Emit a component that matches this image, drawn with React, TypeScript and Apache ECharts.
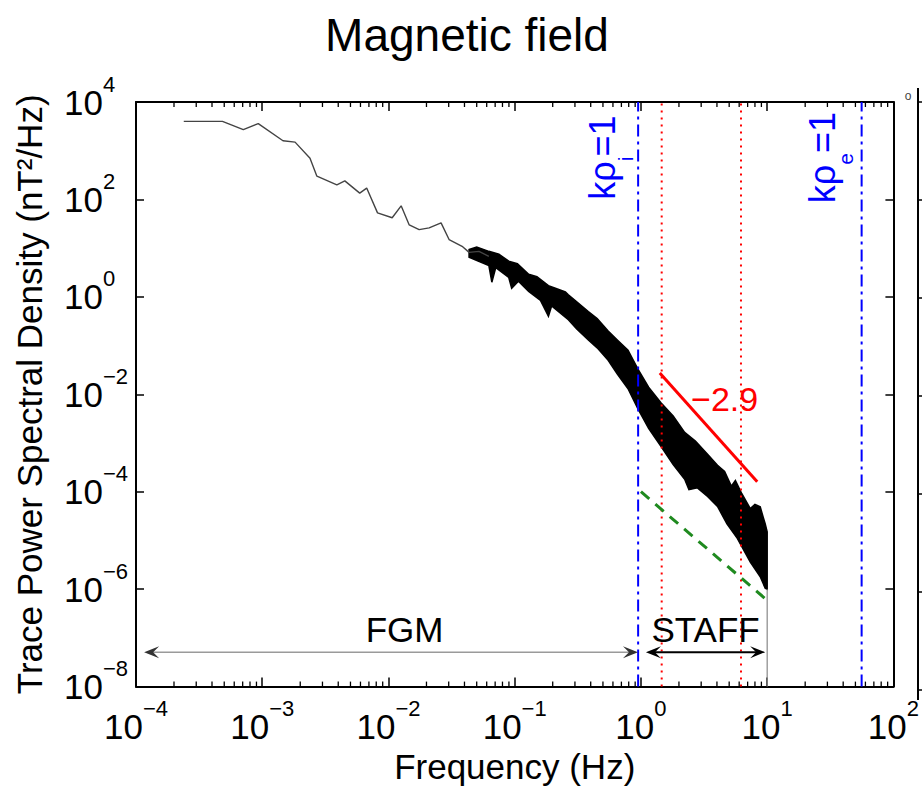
import React, { useEffect, useRef } from 'react';
import * as echarts from 'echarts';

const FONT = '"Liberation Sans", Arial, Helvetica, sans-serif';

// Axis ranges
const xRange = [1e-4, 1e2];
const yRange = [1e-8, 1e4];
const xTickExps = ['−4', '−3', '−2', '−1', '0', '1', '2'];
const yTickExps = ['−8', '−6', '−4', '−2', '0', '2', '4'];
const minorDecades = [1e-4, 1e-3, 1e-2, 1e-1, 1, 10];
const minorMultipliers = [2, 3, 4, 5, 6, 7, 8, 9];

// Low-frequency (thin) part of the trace spectrum
const lowFreqF = [2.39e-4, 4.84e-4, 7.08e-4, 9.3e-4, 1.46e-3, 1.82e-3, 2.39e-3, 2.71e-3, 3.9e-3, 4.51e-3, 5.92e-3, 6.72e-3, 8.19e-3, 1.07e-2, 1.26e-2, 1.46e-2, 1.75e-2, 2.1e-2, 2.61e-2, 3.02e-2, 3.83e-2, 4.35e-2, 5.21e-2, 6.24e-2];
const lowFreqP = [4.0e3, 4.0e3, 2.7e3, 3.6e3, 1.6e3, 1.5e3, 700, 300, 200, 240, 135, 171, 53, 42, 74, 30, 24, 26, 33, 15, 10.9, 8.2, 8.6, 6.8];

// Noisy high-frequency band: upper and lower envelopes
const upperF = [0.0435, 0.05, 0.0624, 0.075, 0.0897, 0.105, 0.129, 0.15, 0.185, 0.21, 0.252, 0.266, 0.3, 0.383, 0.45, 0.55, 0.65, 0.79, 0.947, 1.15, 1.44, 1.8, 2.22, 2.7, 3.37, 4.04, 4.6, 5.2, 5.6, 6.3, 7.35, 8.0, 8.81, 9.3, 9.64, 10.0];
const upperP = [9.4, 10.5, 8.6, 7.5, 5.4, 4.8, 2.9, 2.6, 1.7, 1.5, 1.26, 1.1, 0.85, 0.5, 0.36, 0.2, 0.13, 0.08, 0.033, 0.014, 6.7e-3, 3.6e-3, 1.65e-3, 1.1e-3, 5.9e-4, 3.5e-4, 2.6e-4, 1.3e-4, 1.7e-4, 9.1e-5, 4.5e-5, 5.5e-5, 4.9e-5, 3.0e-5, 2.2e-5, 1.5e-5];
const lowerF = [0.0435, 0.0624, 0.0659, 0.0708, 0.0897, 0.0946, 0.107, 0.129, 0.16, 0.185, 0.196, 0.266, 0.31, 0.383, 0.45, 0.55, 0.65, 0.79, 0.947, 1.15, 1.44, 1.8, 2.22, 2.4, 2.8, 3.37, 4.04, 4.8, 5.8, 7.35, 8.81, 9.64, 10.0];
const lowerP = [6.5, 4.4, 2.0, 4.0, 2.5, 1.5, 2.1, 1.3, 0.85, 0.4, 0.65, 0.34, 0.22, 0.13, 0.09, 0.05, 0.026, 0.013, 5.0e-3, 2.0e-3, 8.5e-4, 3.6e-4, 1.8e-4, 1.1e-4, 1.2e-4, 8.0e-5, 5.0e-5, 2.2e-5, 1.1e-5, 3.6e-6, 1.8e-6, 1.05e-6, 1.0e-6];

// Reference lines
const kRhoIF = 0.95;
const kRhoEF = 56;
const redDottedF = [1.46, 6.2];
const fitF = [1.41, 8.34];
const fitP = [0.0274, 1.6e-4];
const noiseF = [1.0, 10];
const noiseP = [1.0e-4, 5.9e-7];
const cutoffF = [10, 10];
const cutoffP = [1.0e-6, 1e-8];

// Instrument ranges (arrows)
const arrowNames = ['FGM', 'STAFF'];
const arrowFrom = [1.16e-4, 1.095];
const arrowTo = [0.947, 9.64];
const arrowP = 5.1e-8;
const arrowLineColors = ['#9a9a9a', '#000000'];
const arrowHeadColors = ['#333333', '#000000'];
const arrowLabelF = [0.0134, 3.25];
const arrowLabelP = 1.5e-7;

// Annotations
const slopeLabel = '−2.9';
const slopeLabelPos = [4.6, 7.9e-3];
const kRhoLabels = [
  { f: 0.492, p: 720, sub: 'i' },
  { f: 27.2, p: 720, sub: 'e' },
];

const richTick = {
  b: { fontSize: 35, fontFamily: FONT, color: '#000', lineHeight: 58, verticalAlign: 'middle' },
  s: { fontSize: 22, fontFamily: FONT, color: '#000', lineHeight: 22, verticalAlign: 'top' },
};

export default function App() {
  const ref = useRef<HTMLDivElement>(null);
  useEffect(() => {
    if (!ref.current) return;
    const chart = echarts.init(ref.current, null, { renderer: 'svg' });

    const minorTicks: number[][] = [];
    minorDecades.forEach((d) => minorMultipliers.forEach((m) => minorTicks.push([d * m, 1])));

    const vline = (f: number, color: string, type: any, width: number, name: string) => ({
      type: 'line',
      name,
      data: [[f, yRange[0]], [f, yRange[1]]],
      symbol: 'none',
      silent: true,
      z: 4,
      lineStyle: { color, type, width },
    });

    const textPoint = (f: number, p: number, label: any, name: string) => ({
      type: 'scatter',
      name,
      data: [[f, p]],
      symbolSize: 1,
      itemStyle: { color: 'rgba(0,0,0,0)' },
      silent: true,
      z: 6,
      label: { show: true, position: 'inside', textBorderWidth: 0, opacity: 1, ...label },
    });

    const yAxisBase = {
      type: 'log',
      logBase: 10,
      min: yRange[0],
      max: yRange[1],
      interval: 2,
      splitLine: { show: false },
    };

    const option: any = {
      animation: false,
      backgroundColor: '#fff',
      grid: { left: 136, right: 25, top: 102, bottom: 99, show: false },
      xAxis: [
        {
          type: 'log',
          logBase: 10,
          min: xRange[0],
          max: xRange[1],
          interval: 1,
          position: 'bottom',
          name: 'Frequency (Hz)',
          nameLocation: 'middle',
          nameGap: 46,
          nameTextStyle: { fontSize: 35, fontFamily: FONT, color: '#000' },
          axisLine: { show: true, onZero: false, lineStyle: { color: '#000', width: 2 } },
          axisTick: { show: true, inside: true, length: 9, lineStyle: { color: '#000', width: 1.5 } },
          axisLabel: {
            show: true,
            margin: 11,
            formatter: (v: number, idx: number) => `{b|10}{s|${xTickExps[idx] ?? ''}}`,
            rich: richTick,
          },
          splitLine: { show: false },
        },
        {
          type: 'log',
          logBase: 10,
          min: xRange[0],
          max: xRange[1],
          interval: 1,
          position: 'top',
          axisLine: { show: true, onZero: false, lineStyle: { color: '#000', width: 2 } },
          axisTick: { show: true, inside: true, length: 9, lineStyle: { color: '#000', width: 1.5 } },
          axisLabel: { show: false },
          splitLine: { show: false },
        },
      ],
      yAxis: [
        {
          ...yAxisBase,
          position: 'left',
          name: 'Trace Power Spectral Density (nT²/Hz)',
          nameLocation: 'middle',
          nameGap: 89,
          nameMoveOverlap: false,
          nameRotate: 90,
          nameTextStyle: { fontSize: 35, fontFamily: FONT, color: '#000' },
          axisLine: { show: true, onZero: false, lineStyle: { color: '#000', width: 2 } },
          axisTick: { show: true, inside: true, length: 8, lineStyle: { color: '#000', width: 1.5 } },
          axisLabel: {
            show: true,
            margin: 72,
            align: 'left',
            formatter: (v: number, idx: number) => `{b|10}{s|${yTickExps[idx] ?? ''}}`,
            rich: richTick,
          },
        },
        {
          ...yAxisBase,
          position: 'right',
          axisLine: { show: true, onZero: false, lineStyle: { color: '#000', width: 2 } },
          axisTick: { show: true, inside: true, length: 8, lineStyle: { color: '#000', width: 1.5 } },
          axisLabel: { show: false },
        },
      ],
      graphic: [
        {
          type: 'text',
          x: 467,
          y: 35,
          style: {
            text: 'Magnetic field',
            fontSize: 46,
            fontFamily: FONT,
            fill: '#000',
            align: 'center',
            verticalAlign: 'middle',
          },
        },
        {
          type: 'line',
          shape: { x1: 918, y1: 88, x2: 918, y2: 700 },
          style: { stroke: '#000', lineWidth: 2 },
        },
        ...[102, 200, 298, 396, 494, 592, 690].map((y) => ({
          type: 'line',
          shape: { x1: 918, y1: y, x2: 924, y2: y },
          style: { stroke: '#000', lineWidth: 1.5 },
        })),
        {
          type: 'text',
          x: 908,
          y: 96,
          style: { text: 'o', fontSize: 12, fontFamily: FONT, fill: '#444', align: 'center', verticalAlign: 'middle' },
        },
      ],
      series: [
        {
          type: 'custom',
          name: 'minorTicks',
          data: minorTicks,
          silent: true,
          z: 5,
          renderItem: (params: any, api: any) => {
            const x = api.coord([api.value(0), 1])[0];
            const cs = params.coordSys;
            return {
              type: 'group',
              children: [
                { type: 'line', shape: { x1: x, y1: cs.y + cs.height, x2: x, y2: cs.y + cs.height - 5 }, style: { stroke: '#000', lineWidth: 1.3 } },
                { type: 'line', shape: { x1: x, y1: cs.y, x2: x, y2: cs.y + 5 }, style: { stroke: '#000', lineWidth: 1.3 } },
              ],
            };
          },
        },
        {
          type: 'line',
          name: 'spectrumLow',
          data: lowFreqF.map((f, i) => [f, lowFreqP[i]]),
          symbol: 'none',
          silent: true,
          z: 2,
          lineStyle: { color: '#444', width: 1.4 },
        },
        {
          type: 'custom',
          name: 'spectrumBand',
          data: [[1, 1]],
          silent: true,
          z: 2,
          renderItem: (params: any, api: any) => {
            const pts: number[][] = [];
            upperF.forEach((f, i) => pts.push(api.coord([f, upperP[i]])));
            for (let i = lowerF.length - 1; i >= 0; i--) pts.push(api.coord([lowerF[i], lowerP[i]]));
            return {
              type: 'polygon',
              shape: { points: pts },
              style: { fill: '#000', stroke: '#000', lineWidth: 1.5, lineJoin: 'miter' },
            };
          },
        },
        {
          type: 'line',
          name: 'cutoff',
          data: cutoffF.map((f, i) => [f, cutoffP[i]]),
          symbol: 'none',
          silent: true,
          z: 2,
          lineStyle: { color: '#888', width: 1.2 },
        },
        vline(kRhoIF, '#0000ff', [12, 5, 3, 5], 2, 'kRhoI'),
        vline(kRhoEF, '#0000ff', [12, 5, 3, 5], 2, 'kRhoE'),
        vline(redDottedF[0], '#ff0000', [2, 5], 2, 'red1'),
        vline(redDottedF[1], '#ff0000', [2, 5], 2, 'red2'),
        {
          type: 'line',
          name: 'fit',
          data: fitF.map((f, i) => [f, fitP[i]]),
          symbol: 'none',
          silent: true,
          z: 5,
          lineStyle: { color: '#ff0000', width: 3 },
        },
        {
          type: 'line',
          name: 'noise',
          data: noiseF.map((f, i) => [f, noiseP[i]]),
          symbol: 'none',
          silent: true,
          z: 5,
          lineStyle: { color: '#1f8a1f', width: 3, type: [11, 8] },
        },
        {
          type: 'custom',
          name: 'arrows',
          data: arrowNames.map((_, i) => [arrowFrom[i], arrowTo[i], arrowP, i]),
          encode: { x: [0, 1], y: 2 },
          silent: true,
          z: 5,
          renderItem: (params: any, api: any) => {
            const i = api.value(3);
            const p1 = api.coord([api.value(0), api.value(2)]);
            const p2 = api.coord([api.value(1), api.value(2)]);
            const L = 15;
            const W = 6;
            const y = p1[1];
            return {
              type: 'group',
              children: [
                { type: 'line', shape: { x1: p1[0] + 4, y1: y, x2: p2[0] - 4, y2: y }, style: { stroke: arrowLineColors[i], lineWidth: i === 0 ? 1.5 : 2 } },
                { type: 'polygon', shape: { points: [[p1[0], y], [p1[0] + L, y - W], [p1[0] + L * 0.6, y], [p1[0] + L, y + W]] }, style: { fill: arrowHeadColors[i] } },
                { type: 'polygon', shape: { points: [[p2[0], y], [p2[0] - L, y - W], [p2[0] - L * 0.6, y], [p2[0] - L, y + W]] }, style: { fill: arrowHeadColors[i] } },
              ],
            };
          },
        },
        ...arrowNames.map((n, i) =>
          textPoint(arrowLabelF[i], arrowLabelP, { formatter: n, fontSize: 35, fontFamily: FONT, color: '#000' }, 'label' + n)
        ),
        textPoint(slopeLabelPos[0], slopeLabelPos[1], { formatter: slopeLabel, fontSize: 34, fontFamily: FONT, color: '#ff0000' }, 'slope'),
        ...kRhoLabels.map((k, i) =>
          textPoint(
            k.f,
            k.p,
            {
              formatter: `{b|kρ}{s|${k.sub}}{b|=1}`,
              rotate: 90,
              rich: {
                b: { fontSize: 36, fontFamily: FONT, color: '#0000ff', lineHeight: 68, verticalAlign: 'middle' },
                s: { fontSize: 21, fontFamily: FONT, color: '#0000ff', lineHeight: 21, verticalAlign: 'bottom' },
              },
            },
            'krho' + i
          )
        ),
      ],
    };
    chart.setOption(option);
    return () => chart.dispose();
  }, []);
  return <div ref={ref} style={{ position: 'fixed', left: 0, top: 0, width: 922, height: 789 }} />;
}
